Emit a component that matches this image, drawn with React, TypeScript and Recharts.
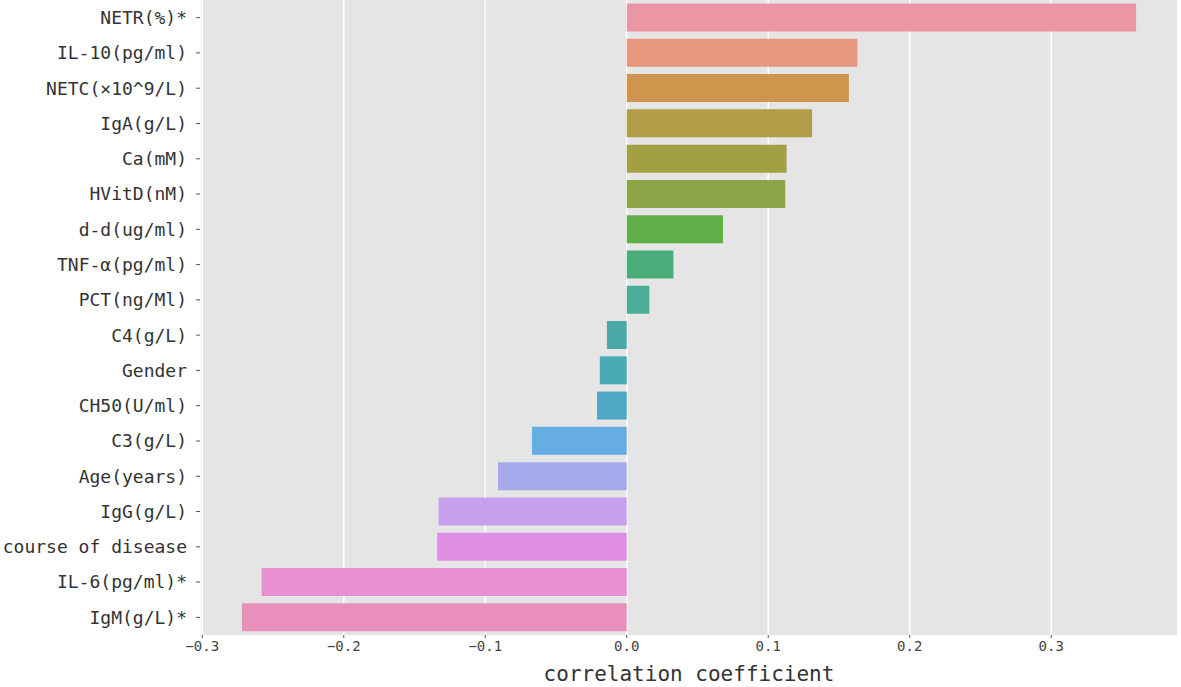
import { BarChart, Bar, XAxis, YAxis, CartesianGrid, Cell, Label } from 'recharts';

const features = [
  'NETR(%)*', 'IL-10(pg/ml)', 'NETC(×10^9/L)', 'IgA(g/L)', 'Ca(mM)', 'HVitD(nM)',
  'd-d(ug/ml)', 'TNF-α(pg/ml)', 'PCT(ng/Ml)', 'C4(g/L)', 'Gender', 'CH50(U/ml)',
  'C3(g/L)', 'Age(years)', 'IgG(g/L)', 'course of disease', 'IL-6(pg/ml)*', 'IgM(g/L)*',
];

const coefficients = [
  0.360, 0.163, 0.157, 0.131, 0.113, 0.112,
  0.068, 0.033, 0.016, -0.014, -0.019, -0.021,
  -0.067, -0.091, -0.133, -0.134, -0.258, -0.272,
];

const barColors = [
  '#eb96a4', '#e6977e', '#cf954c', '#b39c48', '#a3a043', '#8da446',
  '#5fae49', '#4aad7a', '#4aae98', '#4aaaa8', '#4aaab5', '#4ea8c6',
  '#66ade4', '#a6a9ea', '#c6a0ec', '#df8ee6', '#e88ed3', '#e890bb',
];

const xTicks = [-0.3, -0.2, -0.1, 0, 0.1, 0.2, 0.3];

const rows = features.map((name, i) => ({ name, value: coefficients[i] }));

const fmt = (v: number) => (v < 0 ? '\u2212' : '') + Math.abs(v).toFixed(1);

const mono = '"DejaVu Sans Mono", "Noto Sans CJK SC", monospace';

export default function App() {
  return (
    <div style={{ position: 'absolute', left: 0, top: 0, background: '#fff' }}>
      <BarChart
        width={1181}
        height={687}
        data={rows}
        layout="vertical"
        margin={{ top: 0, right: 3, bottom: 0, left: 0 }}
        barCategoryGap="10%"
      >
        <CartesianGrid fill="#e5e5e5" stroke="#ffffff" strokeWidth={1.5} horizontal={false} />
        <XAxis
          type="number"
          domain={[-0.3016, 0.3896]}
          ticks={xTicks}
          tickFormatter={fmt}
          height={52}
          axisLine={false}
          tickSize={3}
          tickMargin={3}
          tickLine={{ stroke: '#555' }}
          tick={{ fontSize: 14, fill: '#444', fontFamily: mono }}
        >
          <Label
            value="correlation coefficient"
            position="insideBottom"
            offset={6}
            style={{ fontSize: 21, fill: '#333', fontFamily: mono }}
          />
        </XAxis>
        <YAxis
          type="category"
          dataKey="name"
          width={200}
          axisLine={false}
          tickSize={4}
          tickMargin={9}
          tickLine={{ stroke: '#555' }}
          tick={{ fontSize: 18, fill: '#333', fontFamily: mono }}
          interval={0}
        />
        <Bar dataKey="value" isAnimationActive={false}>
          {rows.map((r, i) => (
            <Cell key={r.name} fill={barColors[i]} />
          ))}
        </Bar>
      </BarChart>
    </div>
  );
}
